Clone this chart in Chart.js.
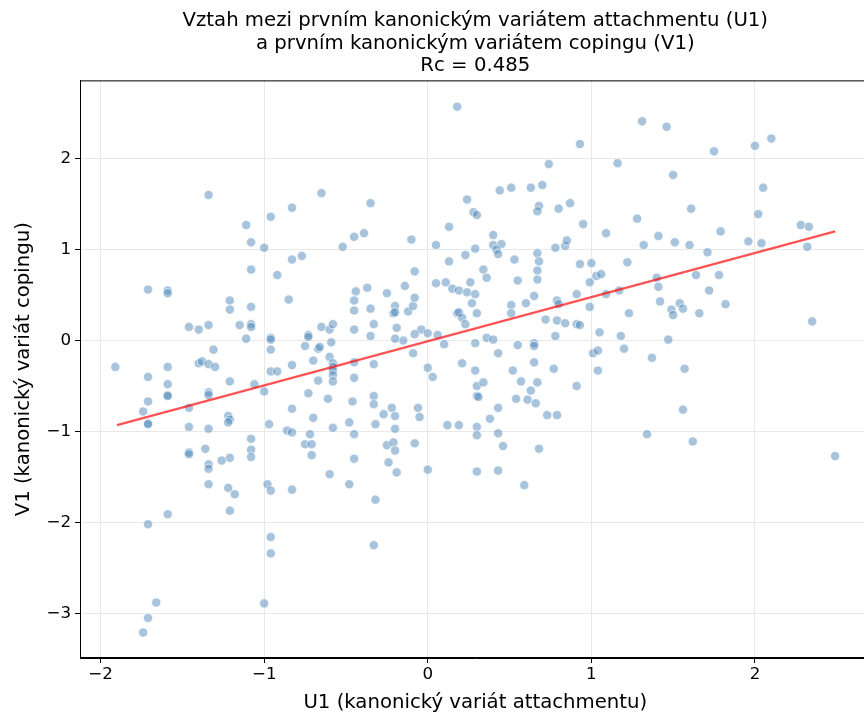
<!DOCTYPE html>
<html><head><meta charset="utf-8">
<script src="https://cdn.jsdelivr.net/npm/chart.js@4.4.0/dist/chart.umd.min.js"></script>
<style>html,body{margin:0;padding:0;background:#fff;overflow:hidden;} canvas{display:block;}</style>
</head><body>
<canvas id="c" width="876" height="714"></canvas>
<script>
const titleLines = [
  "Vztah mezi prvním kanonickým variátem attachmentu (U1)",
  "a prvním kanonickým variátem copingu (V1)",
  "Rc = 0.485"
];
const xLabel = "U1 (kanonický variát attachmentu)";
const yLabel = "V1 (kanonický variát copingu)";
const xTicks = [-2, -1, 0, 1, 2];
const yTicks = [-3, -2, -1, 0, 1, 2];

const u1 = [
 -1.91,-1.71,-1.59,-1.59,-1.71,-1.59,-1.59,-1.59,-1.59,-1.71,-1.74,-1.71,-1.71,
 -1.46,-1.40,-1.34,-1.21,-1.21,-1.08,-1.15,-1.08,-1.08,-1.11,-0.96,-0.96,-0.96,-0.96,-0.92,
 -1.31,-1.40,-1.38,-1.34,-1.30,-1.21,-1.06,-1.34,-1.34,-1.00,-1.46,-1.22,-1.21,-1.22,-1.46,-1.34,-0.97,-1.08,-1.46,-1.46,-1.36,-1.08,-1.08,-1.21,-1.26,-1.34,-1.34,
 -1.34,-0.96,-1.11,-1.08,-1.00,-1.08,-0.92,
 -1.34,-1.22,-1.18,-0.98,-0.96,-1.21,-1.59,-1.71,-0.96,-0.96,-1.66,-1.00,-1.71,-1.74,
 0.18,-0.65,-0.83,-0.35,0.24,0.28,0.30,0.13,-0.45,-0.39,-0.52,-0.10,0.05,0.23,0.29,-0.83,-0.77,0.13,-0.08,
 -0.85,-0.44,-0.37,-0.25,-0.14,0.05,0.11,0.15,0.19,0.26,0.24,0.29,0.27,0.18,0.19,0.21,0.23,0.30,0.29,0.10,0.06,
 -0.45,-0.45,-0.35,-0.20,-0.21,-0.20,-0.12,-0.09,-0.08,-0.33,-0.19,-0.04,0.00,-0.08,-0.15,-0.20,-0.35,-0.45,-0.65,-0.60,-0.58,-0.73,-0.73,-0.75,-0.67,-0.66,-0.59,-0.60,-0.58,-0.58,-0.58,-0.58,-0.58,-0.70,-0.83,
 -0.67,-0.45,-0.33,-0.45,-0.09,0.00,0.03,0.21,0.29,0.30,0.30,0.31,-0.73,-0.61,-0.46,-0.33,-0.33,-0.83,-0.70,-0.58,-0.48,-0.45,-0.32,-0.27,-0.22,-0.20,-0.20,-0.06,-0.05,0.12,0.19,0.30,0.30,-0.86,-0.83,-0.72,-0.75,-0.71,-0.71,-0.25,-0.21,-0.20,-0.08,-0.45,-0.24,-0.19,0.00,0.30,-0.60,
 -0.83,-0.48,-0.32,-0.33,
 0.93,1.31,1.46,0.74,1.16,1.50,0.44,0.51,0.63,0.70,0.68,0.67,0.80,0.87,0.95,1.28,1.09,1.41,1.32,1.51,0.40,0.40,0.45,0.42,0.43,0.53,0.67,0.68,0.67,0.78,0.84,0.85,0.93,1.00,1.22,0.34,0.36,0.55,0.67,1.03,1.06,1.40,
 0.99,0.51,0.51,0.60,0.65,0.79,0.80,0.91,1.09,1.17,1.41,1.42,0.99,1.23,1.49,1.50,0.72,0.79,0.84,0.91,0.93,0.36,0.40,0.55,0.65,0.65,0.78,1.05,1.18,1.47,0.43,1.01,1.04,1.20,1.37,0.65,0.52,0.77,1.04,0.34,0.57,0.67,0.63,0.91,0.54,0.61,0.66,0.43,0.38,0.73,0.79,0.43,0.46,0.68,1.34,0.43,0.59,
 1.75,2.00,2.10,2.05,1.61,2.02,1.79,2.28,2.33,1.60,1.96,2.04,2.32,1.71,1.64,1.78,
 1.72,1.54,1.56,1.66,1.82,2.35,1.57,1.56,1.62,2.49
];
const v1 = [
 -0.29,0.56,0.55,0.52,-0.40,-0.29,-0.48,-0.60,-0.61,-0.67,-0.78,-0.91,-0.92,
 0.15,0.12,0.17,0.44,0.34,0.37,0.17,0.18,0.15,0.02,0.03,0.01,-0.10,-0.34,-0.34,
 -0.10,-0.25,-0.23,-0.26,-0.29,-0.45,-0.48,-0.57,-0.60,-0.56,-0.74,-0.83,-0.87,-0.90,-0.95,-0.97,-0.92,-1.08,-1.23,-1.25,-1.19,-1.20,-1.28,-1.29,-1.32,-1.36,-1.41,
 1.60,1.36,1.27,1.08,1.02,0.78,0.72,
 -1.58,-1.62,-1.69,-1.58,-1.65,-1.87,-1.91,-2.02,-2.16,-2.34,-2.88,-2.89,-3.05,-3.21,
 2.57,1.62,1.46,1.51,1.55,1.41,1.38,1.25,1.14,1.18,1.03,1.11,1.05,0.94,1.01,0.89,0.93,0.87,0.76,
 0.45,0.54,0.58,0.52,0.60,0.63,0.64,0.57,0.55,0.64,0.53,0.51,0.41,0.30,0.31,0.25,0.18,0.30,-0.03,-0.04,0.06,
 0.44,0.33,0.35,0.38,0.30,0.31,0.32,0.38,0.47,0.18,0.14,0.12,0.08,0.07,0.00,0.02,0.05,0.12,0.15,0.12,0.18,0.06,0.04,-0.06,-0.09,-0.07,-0.02,-0.18,-0.25,-0.29,-0.33,-0.38,-0.45,-0.22,-0.27,
 -0.44,-0.24,-0.26,-0.41,-0.14,-0.30,-0.40,-0.25,-0.33,-0.50,-0.61,-0.62,-0.58,-0.64,-0.67,-0.61,-0.70,-0.75,-0.85,-0.96,-0.90,-1.03,-0.92,-0.81,-0.74,-0.83,-0.97,-0.74,-0.84,-0.93,-0.93,-0.95,-1.04,-0.99,-1.01,-1.03,-1.14,-1.14,-1.26,-1.15,-1.12,-1.21,-1.13,-1.30,-1.34,-1.45,-1.42,-1.44,-1.47,
 -1.64,-1.58,-1.75,-2.25,
 2.16,2.41,2.35,1.94,1.95,1.82,1.65,1.68,1.68,1.71,1.48,1.42,1.45,1.51,1.28,1.34,1.18,1.15,1.05,1.08,1.16,1.05,1.06,1.00,0.95,0.89,0.96,0.87,0.77,1.02,1.04,1.10,0.84,0.85,0.86,0.78,0.69,0.66,0.67,0.71,0.73,0.69,
 0.64,0.39,0.30,0.41,0.49,0.44,0.40,0.51,0.51,0.55,0.59,0.43,0.37,0.30,0.34,0.28,0.23,0.22,0.19,0.18,0.17,0.03,0.01,-0.05,-0.03,-0.06,0.05,0.09,0.05,0.01,-0.14,-0.14,-0.11,-0.09,-0.19,-0.24,-0.33,-0.31,-0.33,-0.46,-0.45,-0.46,-0.55,-0.50,-0.64,-0.65,-0.69,-0.74,-0.86,-0.82,-0.82,-1.02,-1.16,-1.19,-1.03,-1.43,-1.59,
 2.08,2.14,2.22,1.68,1.45,1.39,1.20,1.27,1.25,1.05,1.09,1.07,1.03,0.97,0.72,0.72,
 0.55,0.41,0.35,0.30,0.40,0.21,-0.31,-0.76,-1.11,-1.27
];
const fitX = [-1.9, 2.49];
const fitY = [-0.93, 1.2];

const points = u1.map((x, i) => ({x: x, y: v1[i]}));
const fitPoints = fitX.map((x, i) => ({x: x, y: fitY[i]}));

const fmt = v => (v < 0 ? "\u2212" + Math.abs(v) : String(v));
const FONT = "'DejaVu Sans', sans-serif";

const boxPlugin = {
  id: 'box',
  afterDatasetsDraw(chart) {
    const a = chart.chartArea, ctx = chart.ctx;
    ctx.save();
    ctx.strokeStyle = '#000';
    ctx.lineWidth = 1;
    ctx.strokeRect(a.left + 0.5, a.top + 0.5, a.right - a.left - 1, a.bottom - a.top - 1);
    ctx.restore();
  }
};

new Chart(document.getElementById('c'), {
  type: 'scatter',
  data: {
    datasets: [
      {
        type: 'line', data: fitPoints, borderColor: 'rgba(255,0,0,0.68)', borderWidth: 2.2,
        pointRadius: 0, fill: false, order: 0
      },
      {
        data: points, backgroundColor: 'rgba(70,130,180,0.47)', borderColor: 'rgba(255,255,255,0.8)',
        borderWidth: 0.8, pointRadius: 4.6, pointHoverRadius: 4.6, order: 1
      }
    ]
  },
  options: {
    responsive: false, animation: false, devicePixelRatio: 1,
    layout: { padding: { left: 0, right: 0, top: 0, bottom: 0 } },
    plugins: {
      legend: { display: false }, tooltip: { enabled: false },
      title: {
        display: true, fullSize: false, text: titleLines, color: '#000',
        font: { family: FONT, size: 19.7, weight: 'normal', lineHeight: 1.14 },
        padding: { top: 10, bottom: 3 }
      }
    },
    scales: {
      x: {
        type: 'linear', min: -2.126, max: 2.707,
        afterBuildTicks: s => { s.ticks = xTicks.map(v => ({value: v})); },
        afterFit: s => { s.height = 56; s.paddingLeft = 0; s.paddingRight = 0; },
        ticks: { color: '#000', font: { family: FONT, size: 16.7 }, padding: 2, callback: v => fmt(v), maxRotation: 0 },
        grid: { color: '#e8e8e8', lineWidth: 1, tickColor: '#000', tickLength: 5 },
        border: { display: true, color: '#000', width: 1 },
        title: { display: true, text: xLabel, color: '#000', font: { family: FONT, size: 19.7, lineHeight: 1.1 }, padding: { top: 0, bottom: 0 } }
      },
      y: {
        type: 'linear', min: -3.49, max: 2.86,
        afterBuildTicks: s => { s.ticks = yTicks.map(v => ({value: v})); },
        afterFit: s => { s.width = 80; s.paddingTop = 0; s.paddingBottom = 0; },
        ticks: { color: '#000', font: { family: FONT, size: 16.7 }, padding: 4, callback: v => fmt(v) },
        grid: { color: '#e8e8e8', lineWidth: 1, tickColor: '#000', tickLength: 5 },
        border: { display: true, color: '#000', width: 1 },
        title: { display: true, text: yLabel, color: '#000', font: { family: FONT, size: 19.7 }, padding: { top: 12, bottom: 2 } }
      }
    }
  },
  plugins: [boxPlugin]
});
</script>
</body></html>
